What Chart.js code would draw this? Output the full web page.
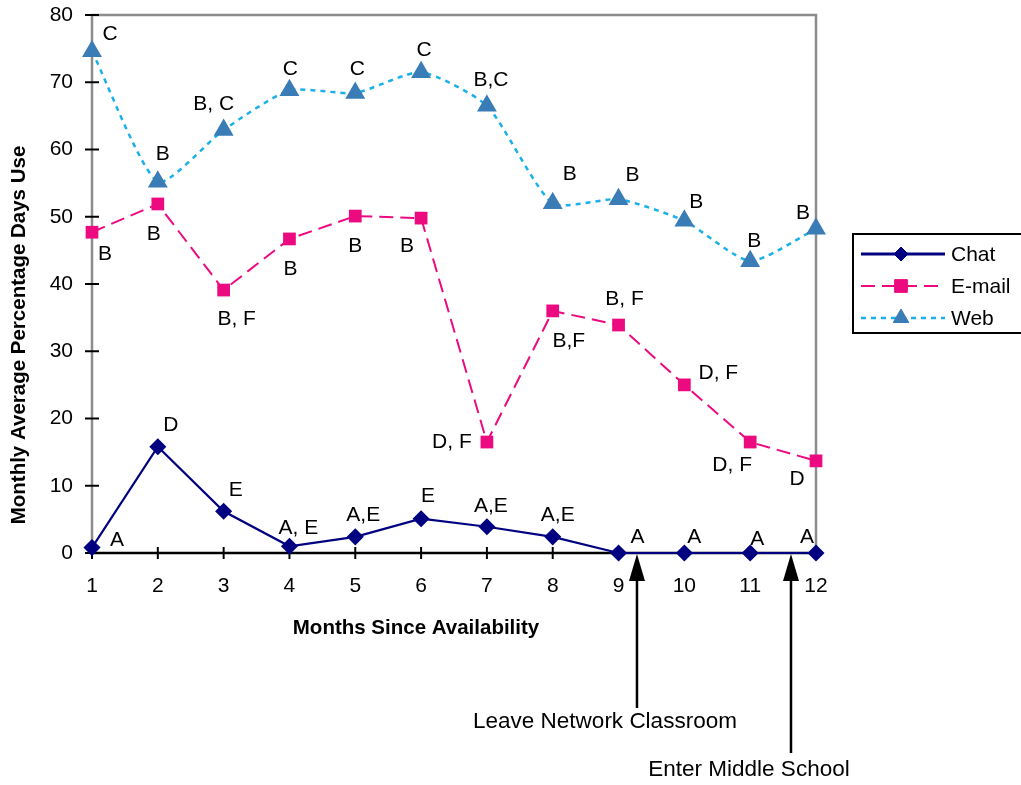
<!DOCTYPE html>
<html><head><meta charset="utf-8">
<script src="https://cdn.jsdelivr.net/npm/chart.js@4.4.1/dist/chart.umd.min.js"></script>
<style>html,body{margin:0;padding:0;background:#fff}#wrap{width:1021px;height:785px}</style>
</head><body><div id="wrap"><canvas id="c" width="1021" height="785"></canvas></div>
<script>
// ---- data ----
const months = [1,2,3,4,5,6,7,8,9,10,11,12];
const chatValues  = [0.8,15.8,6.2,1.0,2.4,5.1,3.9,2.4,0,0,0,0];
const emailValues = [47.7,51.9,39.1,46.7,50.1,49.8,16.5,36.0,33.9,25.0,16.5,13.7];
const webValues   = [74.6,55.2,62.9,68.8,68.4,71.5,66.5,52.0,52.6,49.4,43.4,48.2];
const chatLetters  = ['A','D','E','A, E','A,E','E','A,E','A,E','A','A','A','A'];
const emailLetters = ['B','B','B, F','B','B','B','D, F','B,F','B, F','D, F','D, F','D'];
const webLetters   = ['C','B','B, C','C','C','C','B,C','B','B','B','B','B'];
const yTicks = [0,10,20,30,40,50,60,70,80];
const eventMonths = [9.28, 11.62];
const eventLabels = ['Leave Network Classroom','Enter Middle School'];
const xTitle = 'Months Since Availability';
const yTitle = 'Monthly Average Percentage Days Use';

// ---- label placement (pixel offsets from each point) ----
const chatOffsets  = [[25,-7],[13,-22],[12,-21],[9,-18],[8,-22],[7,-22],[4,-21],[5,-22],[19,-16],[10,-16],[7,-14],[-9,-16]];
const emailOffsets = [[13,22],[-4,30],[13,29],[1,30],[0,30],[-14,28],[-35,0],[16,30],[6,-26],[34,-12],[-18,23],[-19,18]];
const webOffsets   = [[18,-17],[5,-28],[-10,-26],[1,-21],[2,-24],[3,-22],[4,-26],[17,-29],[14,-24],[12,-19],[4,-20],[-13,-16]];
const eventDrop = [155, 200];
const eventTextShift = [[-32,14],[-42,17]];

const FONT = '"Liberation Sans", Arial, sans-serif';

const toXY = vals => vals.map((v,i)=>({x:months[i], y:v}));

const labelPlugin = {
  id:'labels',
  afterDatasetsDraw(chart){
    const ctx = chart.ctx;
    const sets = [[chatLetters,chatOffsets],[emailLetters,emailOffsets],[webLetters,webOffsets]];
    ctx.save();
    ctx.font = '21px ' + FONT;
    ctx.fillStyle = '#000';
    ctx.textAlign = 'center';
    ctx.textBaseline = 'middle';
    sets.forEach(([letters,offs],di)=>{
      const meta = chart.getDatasetMeta(di);
      meta.data.forEach((p,i)=>{
        ctx.fillText(letters[i], p.x + offs[i][0], p.y + offs[i][1]);
      });
    });
    ctx.restore();
  }
};

const framePlugin = {
  id:'frame',
  beforeDatasetsDraw(chart){
    const {ctx, chartArea:a, scales} = chart;
    ctx.save();
    ctx.strokeStyle = '#8c8c8c';
    ctx.lineWidth = 2.5;
    ctx.beginPath();
    ctx.moveTo(a.left, a.bottom); ctx.lineTo(a.left, a.top);
    ctx.lineTo(a.right, a.top); ctx.lineTo(a.right, a.bottom);
    ctx.stroke();
    ctx.strokeStyle = '#000';
    ctx.beginPath();
    ctx.moveTo(a.left, a.bottom); ctx.lineTo(a.right, a.bottom);
    ctx.stroke();
    ctx.lineWidth = 2;
    yTicks.forEach(v=>{
      const y = scales.y.getPixelForValue(v);
      ctx.beginPath(); ctx.moveTo(a.left-7, y); ctx.lineTo(a.left+7, y); ctx.stroke();
    });
    months.forEach(m=>{
      const x = scales.x.getPixelForValue(m);
      ctx.beginPath(); ctx.moveTo(x, a.bottom-6); ctx.lineTo(x, a.bottom+6); ctx.stroke();
    });
    // axis titles
    ctx.fillStyle = '#000';
    ctx.font = 'bold 20.5px ' + FONT;
    ctx.textAlign = 'center'; ctx.textBaseline = 'middle';
    ctx.fillText(xTitle, 416, 628);
    ctx.save();
    ctx.translate(19, 335); ctx.rotate(-Math.PI/2);
    ctx.fillText(yTitle, 0, 0);
    ctx.restore();
    ctx.restore();
  },
  afterDraw(chart){
    const {ctx, chartArea:a, scales} = chart;
    ctx.save();
    eventMonths.forEach((m,i)=>{
      const x = scales.x.getPixelForValue(m);
      const y0 = a.bottom + 1, y1 = a.bottom + eventDrop[i];
      ctx.strokeStyle = '#000'; ctx.fillStyle = '#000'; ctx.lineWidth = 2.5;
      ctx.beginPath(); ctx.moveTo(x, y1); ctx.lineTo(x, y0 + 20); ctx.stroke();
      ctx.beginPath(); ctx.moveTo(x, y0); ctx.lineTo(x-8, y0+27); ctx.lineTo(x+8, y0+27); ctx.closePath(); ctx.fill();
      ctx.font = '22.5px ' + FONT;
      ctx.textAlign = 'center'; ctx.textBaseline = 'middle';
      ctx.fillText(eventLabels[i], x + eventTextShift[i][0], y1 + eventTextShift[i][1]);
    });
    // legend
    const lx = 853, ly = 234, lw = 180, lh = 99;
    ctx.fillStyle = '#fff';
    ctx.fillRect(lx, ly, lw, lh);
    ctx.strokeStyle = '#000'; ctx.lineWidth = 2;
    ctx.strokeRect(lx, ly, lw, lh);
    const rows = [254, 286, 318];
    chart.data.datasets.forEach((ds,i)=>{
      const y = rows[i];
      ctx.save();
      ctx.strokeStyle = ds.borderColor; ctx.lineWidth = i===0 ? 3 : ds.borderWidth;
      ctx.setLineDash(ds.borderDash || []);
      ctx.beginPath(); ctx.moveTo(861, y); ctx.lineTo(945, y); ctx.stroke();
      ctx.restore();
      ctx.save();
      ctx.fillStyle = ds.pointBackgroundColor;
      ctx.strokeStyle = ds.pointBorderColor;
      ctx.lineWidth = 1;
      Chart.helpers.drawPoint(ctx, {pointStyle: ds.pointStyle, radius: ds.pointRadius, borderWidth: 1}, 901, y);
      ctx.restore();
      ctx.fillStyle = '#000';
      ctx.font = '21px ' + FONT;
      ctx.textAlign = 'left'; ctx.textBaseline = 'middle';
      ctx.fillText(ds.label, 951, y + 1);
    });
    ctx.restore();
  }
};

new Chart(document.getElementById('c'), {
  type:'line',
  data:{
    datasets:[
      {label:'Chat', data:toXY(chatValues), borderColor:'#000080', borderWidth:2.2,
       pointStyle:'rectRot', pointRadius:7, pointBackgroundColor:'#000080', pointBorderColor:'#000080',
       tension:0, clip:false},
      {label:'E-mail', data:toXY(emailValues), borderColor:'#EC0A80', borderWidth:2, borderDash:[14,7],
       pointStyle:'rect', pointRadius:9, pointBackgroundColor:'#EC0A80', pointBorderColor:'#EC0A80', pointBorderWidth:0,
       tension:0, clip:false},
      {label:'Web', data:toXY(webValues), borderColor:'#1AB0EA', borderWidth:2.5, borderDash:[5,5],
       pointStyle:'triangle', pointRadius:9, pointBackgroundColor:'#3A7DB6', pointBorderColor:'#3A7DB6',
       tension:0.2, clip:false}
    ]
  },
  options:{
    responsive:false, animation:false,
    layout:{padding:{top:15, right:205, left:0, bottom:0}},
    plugins:{legend:{display:false}, tooltip:{enabled:false}},
    scales:{
      x:{type:'linear', min:1, max:12,
         afterFit(s){ s.height = 232; s.paddingLeft = 0; s.paddingRight = 0; },
         afterBuildTicks(s){ s.ticks = months.map(v=>({value:v})); },
         grid:{display:false, drawTicks:false}, border:{display:false},
         ticks:{padding:21, color:'#000', font:{family:FONT, size:21}, maxRotation:0, autoSkip:false},
         title:{display:false}},
      y:{min:0, max:80,
         afterFit(s){ s.width = 92; s.paddingTop = 0; s.paddingBottom = 0; },
         afterBuildTicks(s){ s.ticks = yTicks.map(v=>({value:v})); },
         grid:{display:false, drawTicks:false}, border:{display:false},
         ticks:{padding:19, color:'#000', font:{family:FONT, size:21}},
         title:{display:false}}
    }
  },
  plugins:[framePlugin, labelPlugin]
});
</script></body></html>
